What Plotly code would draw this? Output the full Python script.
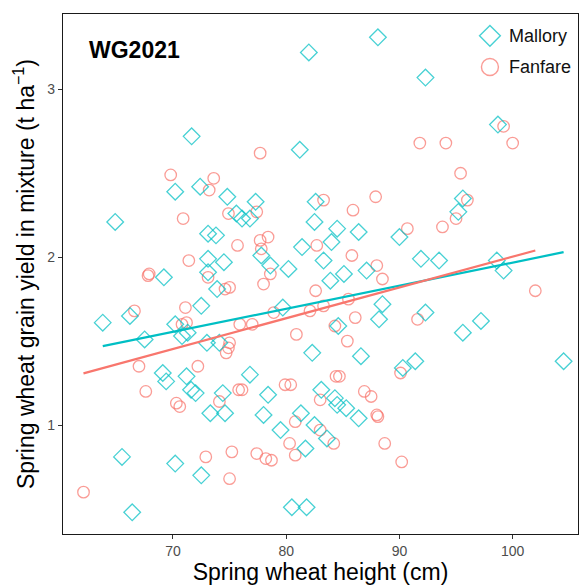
import plotly.graph_objects as go

# Spring wheat height (cm) and grain yield in mixture (t/ha), WG2021
mallory_height = [71.65, 70.2, 72.4, 74.8, 77.3, 82.0, 88.1, 92.3, 81.2, 82.6,
                  98.7, 95.6, 75.6, 76.1, 76.8, 64.9, 73.1, 73.8, 77.8, 73.1,
                  74.5, 69.2, 73.1, 73.9, 72.5, 66.2, 63.8, 70.2, 70.8, 71.3,
                  67.5, 73.0, 74.1, 69.1, 71.2, 76.8, 69.4, 71.6, 72.0, 74.4,
                  73.3, 74.6, 78.0, 65.5, 70.2, 72.5, 66.4, 78.4, 79.5, 81.3,
                  83.1, 84.3, 84.5, 85.3, 86.4, 82.5, 83.6, 81.7, 80.5, 81.8,
                  82.5, 84.5, 84.0, 86.4, 90.0, 78.6, 80.2, 81.4, 83.3, 87.1,
                  85.1, 83.9, 91.9, 93.5, 79.7, 88.5, 88.2, 92.3, 84.6, 82.3,
                  86.6, 90.3, 91.4, 95.2, 98.6, 99.2, 97.2, 95.6, 104.5]
mallory_yield = [2.72, 2.39, 2.42, 2.36, 2.33, 3.22, 3.31, 3.07, 2.64, 2.33,
                 2.79, 2.35, 2.26, 2.23, 2.23, 2.21, 2.14, 2.13, 2.01, 1.99,
                 1.97, 1.88, 1.91, 1.81, 1.71, 1.65, 1.61, 1.60, 1.53, 1.55,
                 1.51, 1.49, 1.49, 1.31, 1.29, 1.30, 1.26, 1.21, 1.19, 1.19,
                 1.07, 1.07, 1.06, 0.81, 0.77, 0.70, 0.48, 1.18, 0.97, 1.07,
                 1.21, 1.16, 1.12, 1.10, 1.04, 1.00, 0.92, 0.86, 0.51, 0.51,
                 2.21, 2.17, 2.09, 2.15, 2.12, 1.95, 1.93, 2.06, 1.98, 1.92,
                 1.90, 1.86, 1.99, 1.98, 1.70, 1.72, 1.63, 1.67, 1.59, 1.43,
                 1.41, 1.34, 1.38, 2.27, 1.98, 1.92, 1.62, 1.55, 1.38]

fanfare_height = [69.8, 73.6, 73.2, 77.7, 91.8, 94.1, 83.3, 87.9, 99.2, 100.0,
                  95.4, 96.0, 74.9, 77.4, 70.9, 75.7, 77.7, 71.4, 67.9, 67.8,
                  73.1, 74.6, 75.0, 71.1, 66.6, 70.8, 71.2, 75.0, 74.9, 74.7,
                  75.9, 77.0, 67.0, 72.2, 67.6, 74.1, 75.8, 76.1, 70.3, 70.6,
                  72.9, 75.2, 77.4, 75.0, 62.1, 79.9, 80.4, 84.4, 84.7, 90.1,
                  80.8, 83.0, 86.9, 87.5, 88.0, 88.1, 83.0, 84.2, 80.3, 80.8,
                  78.2, 78.7, 88.7, 90.2, 85.9, 90.7, 93.8, 78.4, 77.8, 78.6,
                  78.0, 82.7, 85.8, 88.0, 88.5, 82.6, 85.5, 78.9, 82.1, 83.3,
                  86.1, 91.6, 84.3, 80.9, 85.4, 95.0, 102.0]
fanfare_yield = [2.49, 2.47, 2.40, 2.62, 2.68, 2.68, 2.34, 2.36, 2.78, 2.68,
                 2.50, 2.34, 2.26, 2.27, 2.23, 2.07, 2.10, 1.98, 1.90, 1.89,
                 1.88, 1.81, 1.82, 1.70, 1.68, 1.60, 1.61, 1.49, 1.46, 1.43,
                 1.60, 1.60, 1.35, 1.35, 1.20, 1.14, 1.21, 1.21, 1.13, 1.11,
                 0.81, 0.84, 0.83, 0.68, 0.60, 1.24, 1.24, 1.29, 1.29, 1.31,
                 1.02, 1.15, 1.20, 1.17, 1.06, 1.05, 0.97, 0.89, 0.89, 0.82,
                 0.80, 0.79, 0.89, 0.78, 2.28, 2.17, 2.18, 2.12, 2.05, 1.90,
                 1.84, 2.07, 2.01, 1.95, 1.87, 1.80, 1.75, 1.67, 1.68, 1.71,
                 1.64, 1.63, 1.59, 1.54, 1.50, 2.23, 1.80]

# Linear fits (intercept, slope) for each cultivar
mallory_fit = [0.592, 0.01376]
fanfare_fit = [0.169, 0.01834]

x_ticks = [70, 80, 90, 100]
y_ticks = [1, 2, 3]

cyan_line = "#00BFC4"
red_line = "#F8766D"
cyan_pt = "rgba(0,191,196,0.72)"
red_pt = "rgba(248,118,109,0.72)"


def fit_segment(xs, coef):
    x0, x1 = min(xs), max(xs)
    return [x0, x1], [coef[0] + coef[1] * x0, coef[0] + coef[1] * x1]


fig = go.Figure()

fig.add_trace(go.Scatter(
    x=fanfare_height, y=fanfare_yield, mode="markers", name="Fanfare",
    marker=dict(symbol="circle-open", size=11.5, color=red_pt,
                line=dict(width=1.3, color=red_pt)),
    showlegend=False))
fig.add_trace(go.Scatter(
    x=mallory_height, y=mallory_yield, mode="markers", name="Mallory",
    marker=dict(symbol="diamond-open", size=12.8, color=cyan_pt,
                line=dict(width=1.3, color=cyan_pt)),
    showlegend=False))

mx, my = fit_segment(mallory_height, mallory_fit)
fx, fy = fit_segment(fanfare_height, fanfare_fit)
fig.add_trace(go.Scatter(x=mx, y=my, mode="lines",
                         line=dict(color=cyan_line, width=2.2), showlegend=False))
fig.add_trace(go.Scatter(x=fx, y=fy, mode="lines",
                         line=dict(color=red_line, width=2.2), showlegend=False))

# Key drawn on an overlay axis spanning the panel in 0..1 units
key_names = ["Mallory", "Fanfare"]
key_symbols = ["diamond-open", "circle-open"]
key_colors = [cyan_pt, red_pt]
key_sizes = [16, 17]
key_y = [0.958, 0.898]
for name, sym, col, sz, ky in zip(key_names, key_symbols, key_colors, key_sizes, key_y):
    fig.add_trace(go.Scatter(
        x=[0.829], y=[ky], mode="markers", xaxis="x2", yaxis="y2",
        marker=dict(symbol=sym, size=sz, color=col, line=dict(width=1.4, color=col)),
        showlegend=False, hoverinfo="skip"))
    fig.add_annotation(x=0.862, y=ky, xref="x2", yref="y2", text=name,
                       showarrow=False, xanchor="left", yanchor="middle",
                       font=dict(family="Liberation Sans, Arial", size=18, color="#111111"))

fig.add_annotation(x=0.047, y=0.93, xref="x2", yref="y2", text="<b>WG2021</b>",
                   showarrow=False, xanchor="left", yanchor="middle",
                   font=dict(family="Liberation Sans, Arial", size=23, color="#000000"))

axis_common = dict(
    showgrid=False, zeroline=False, showline=True, mirror=True,
    linecolor="#1a1a1a", linewidth=1.4,
    ticks="outside", ticklen=4, tickwidth=1.1, tickcolor="#333333",
    tickfont=dict(family="Liberation Sans, Arial", size=14, color="#4D4D4D"),
)

fig.update_layout(
    width=579, height=586,
    margin=dict(l=63, r=1, t=14, b=52),
    paper_bgcolor="white", plot_bgcolor="white",
    xaxis=dict(range=[60.29, 105.77], tickvals=x_ticks,
               title=dict(text="Spring wheat height (cm)", standoff=2,
                          font=dict(family="Liberation Sans, Arial", size=23, color="#000000")),
               **axis_common),
    yaxis=dict(range=[0.3506, 3.449], tickvals=y_ticks,
               title=dict(text="Spring wheat grain yield in mixture (t ha<sup>−1</sup>)", standoff=6,
                          font=dict(family="Liberation Sans, Arial", size=23, color="#000000")),
               **axis_common),
    xaxis2=dict(range=[0, 1], overlaying="x", visible=False, fixedrange=True),
    yaxis2=dict(range=[0, 1], overlaying="y", visible=False, fixedrange=True),
)

fig.write_html("out.html")
